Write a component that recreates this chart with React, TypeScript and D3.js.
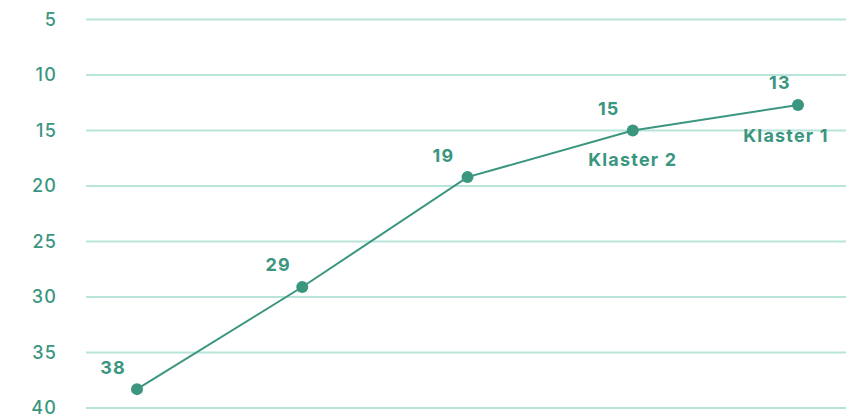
import { format, line, scaleLinear, scalePoint } from "d3";

const width = 846;
const height = 416;

// positions; labels show the rounded value
const steps = ["1", "2", "3", "4", "5"];
const values = [38.3, 29.1, 19.2, 15.0, 12.7];
const clusterNames = ["", "", "", "Klaster 2", "Klaster 1"];
const yTicks = [5, 10, 15, 20, 25, 30, 35, 40];

const green = "#3b9680";
const grid = "#b8e4d9";
const font = "Inter, 'Open Sans', sans-serif";

const gridLeft = 86;

function App() {
  const x = scalePoint<string>().domain(steps).range([137, 798]);
  const y = scaleLinear().domain([5, 40]).range([19.5, 408]);
  const fmt = format(".0f");

  const path = line<number>()
    .x((_, i) => x(steps[i]) as number)
    .y((d) => y(d))(values);

  return (
    <svg
      width={width}
      height={height}
      style={{ position: "absolute", left: 0, top: 0 }}
      fontFamily={font}
    >
      {yTicks.map((t) => (
        <g key={t}>
          <line x1={gridLeft} x2={width} y1={y(t)} y2={y(t)} stroke={grid} strokeWidth={2} />
          <text
            x={57}
            y={y(t)}
            dy="0.36em"
            textAnchor="end"
            fill={green}
            fontSize={18}
            fontWeight={500}
            letterSpacing={1.2}
          >
            {t}
          </text>
        </g>
      ))}

      <path d={path ?? ""} fill="none" stroke={green} strokeWidth={2} />

      {values.map((v, i) => {
        const cx = x(steps[i]) as number;
        const cy = y(v);
        const last = i === values.length - 1;
        return (
          <g key={i}>
            <circle cx={cx} cy={cy} r={6} fill={green} />
            <text
              x={cx - (last ? 18 : 24)}
              y={cy - 22}
              dy="0.36em"
              textAnchor="middle"
              fill={green}
              fontSize={18}
              fontWeight={700}
              letterSpacing={1.2}
            >
              {fmt(v)}
            </text>
            {clusterNames[i] && (
              <text
                x={last ? cx - 12 : cx}
                y={cy + (last ? 31 : 29)}
                dy="0.36em"
                textAnchor="middle"
                fill={green}
                fontSize={18}
                fontWeight={700}
                letterSpacing={1.2}
              >
                {clusterNames[i]}
              </text>
            )}
          </g>
        );
      })}
    </svg>
  );
}

export default App;
